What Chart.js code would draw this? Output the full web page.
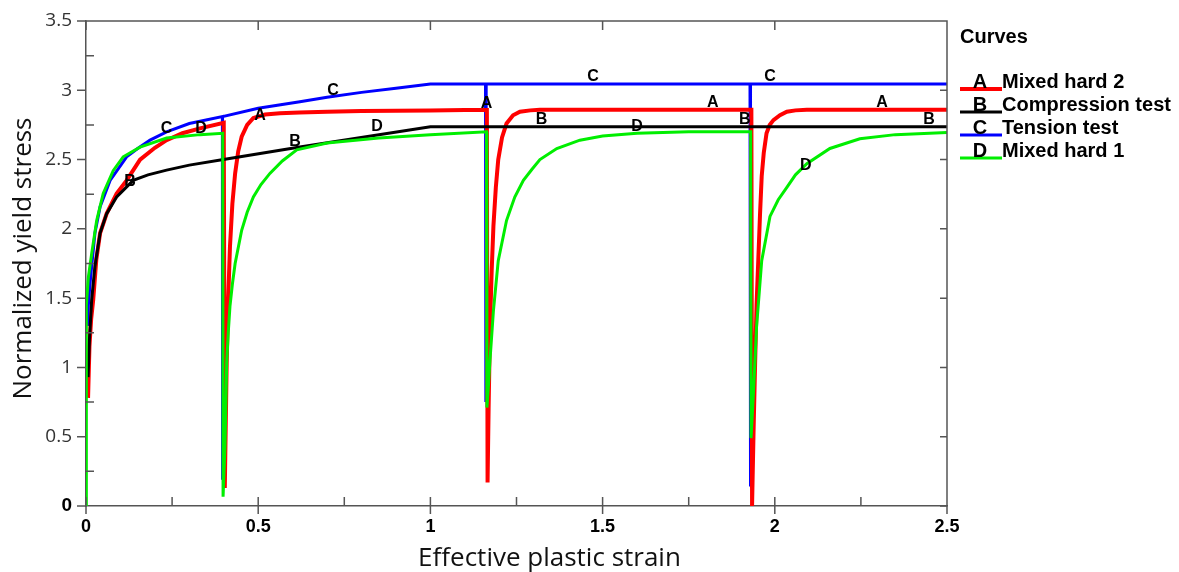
<!DOCTYPE html>
<html>
<head>
<meta charset="utf-8">
<script src="https://cdn.jsdelivr.net/npm/chart.js@4.4.1/dist/chart.umd.min.js"></script>
<style>
  html, body { margin: 0; padding: 0; background: #fff; }
</style>
</head>
<body>
<canvas id="yieldChart" width="1179" height="572"></canvas>
<script>
// A - Mixed hard 2 (red)
const mixed2Strain = [0.006, 0.010, 0.015, 0.021, 0.030, 0.041, 0.060, 0.089, 0.118, 0.157, 0.200, 0.234, 0.280, 0.331, 0.400,
  0.403, 0.4085, 0.413, 0.418, 0.425, 0.433, 0.442, 0.452, 0.468, 0.486, 0.520, 0.563, 0.620, 0.700, 0.800, 0.900, 1.000, 1.100, 1.164,
  1.166, 1.169, 1.173, 1.178, 1.183, 1.190, 1.197, 1.208, 1.221, 1.240, 1.260, 1.290, 1.318, 1.500, 1.700, 1.932,
  1.934, 1.938, 1.943, 1.947, 1.952, 1.957, 1.962, 1.968, 1.976, 1.985, 1.996, 2.015, 2.035, 2.060, 2.093, 2.300, 2.500]
const mixed2Stress = [0.78, 1.15, 1.35, 1.49, 1.78, 1.97, 2.11, 2.255, 2.35, 2.50, 2.585, 2.64, 2.69, 2.725, 2.765,
  0.13, 1.03, 1.50, 1.87, 2.18, 2.40, 2.56, 2.665, 2.75, 2.80, 2.825, 2.835, 2.84, 2.845, 2.85, 2.853, 2.855, 2.857, 2.858,
  0.17, 0.70, 1.29, 1.70, 2.02, 2.30, 2.50, 2.66, 2.76, 2.82, 2.845, 2.855, 2.86, 2.86, 2.86, 2.86,
  0.00, 0.50, 1.05, 1.45, 1.77, 2.10, 2.38, 2.55, 2.69, 2.75, 2.785, 2.82, 2.845, 2.855, 2.86, 2.86, 2.86]

// B - Compression test (black)
const compStrain = [0.006, 0.010, 0.0165, 0.026, 0.041, 0.060, 0.089, 0.137, 0.180, 0.234, 0.300, 0.399, 0.621, 1.000, 2.500]
const compStress = [0.93, 1.20, 1.49, 1.73, 1.97, 2.11, 2.23, 2.35, 2.39, 2.424, 2.46, 2.50, 2.59, 2.737, 2.737]

// C - Tension test (blue)
const tensStrain = [0.005, 0.0068, 0.0115, 0.0165, 0.026, 0.041, 0.070, 0.118, 0.150, 0.186, 0.234, 0.300, 0.396,
  0.396, 0.397, 0.500, 0.621, 0.700, 0.800, 0.900, 1.000, 1.160, 1.161, 1.162, 1.928, 1.929, 1.930, 2.500]
const tensStress = [1.30, 1.45, 1.60, 1.73, 1.97, 2.16, 2.35, 2.52, 2.58, 2.64, 2.70, 2.76, 2.81,
  0.19, 2.81, 2.87, 2.917, 2.95, 2.985, 3.015, 3.045, 3.045, 0.75, 3.045, 3.045, 0.14, 3.045, 3.045]

// D - Mixed hard 1 (green)
const mixed1Strain = [0.000, 0.001, 0.0068, 0.0165, 0.031, 0.050, 0.079, 0.108, 0.157, 0.234, 0.331, 0.397,
  0.398, 0.4036, 0.4085, 0.413, 0.418, 0.425, 0.433, 0.452, 0.468, 0.486, 0.508, 0.534, 0.570, 0.612, 0.700, 0.850, 1.000, 1.163,
  1.164, 1.168, 1.173, 1.183, 1.197, 1.221, 1.245, 1.270, 1.295, 1.318, 1.367, 1.434, 1.500, 1.600, 1.750, 1.930,
  1.931, 1.938, 1.947, 1.962, 1.986, 2.010, 2.035, 2.060, 2.093, 2.160, 2.247, 2.350, 2.500]
const mixed1Stress = [0.00, 1.45, 1.65, 1.82, 2.06, 2.255, 2.42, 2.52, 2.59, 2.655, 2.68, 2.69,
  0.067, 0.43, 1.03, 1.25, 1.44, 1.60, 1.75, 1.99, 2.12, 2.23, 2.32, 2.40, 2.49, 2.57, 2.62, 2.655, 2.68, 2.70,
  0.71, 0.85, 1.05, 1.41, 1.77, 2.06, 2.23, 2.35, 2.43, 2.50, 2.58, 2.64, 2.67, 2.69, 2.70, 2.70,
  0.49, 0.815, 1.29, 1.77, 2.09, 2.21, 2.30, 2.39, 2.47, 2.58, 2.65, 2.68, 2.695]

// letters written along the curves
const labelStrain = [0.234, 0.334, 0.128, 0.505, 0.607, 0.717, 0.845, 1.163, 1.323, 1.472, 1.600, 1.820, 1.913, 1.986, 2.090, 2.311, 2.448]
const labelStress = [2.72, 2.725, 2.34, 2.814, 2.63, 3.00, 2.735, 2.905, 2.785, 3.10, 2.735, 2.91, 2.785, 3.10, 2.455, 2.91, 2.785]
const labelLetter = ['C', 'D', 'B', 'A', 'B', 'C', 'D', 'A', 'B', 'C', 'D', 'A', 'B', 'C', 'D', 'A', 'B']

const toPoints = (xs, ys) => xs.map((x, i) => ({ x: x, y: ys[i] }))

const ARIAL = 'Liberation Sans, Arial, sans-serif'
const OPEN = 'Open Sans, sans-serif'
const AXIS = '#555'

// frame, inward/outward ticks, axis titles, curve letters and the legend
const decorations = {
  id: 'decorations',
  afterDraw(chart) {
    const { ctx, chartArea: a, scales: { x, y } } = chart
    ctx.save()

    ctx.strokeStyle = AXIS
    ctx.lineWidth = 1.5
    ctx.beginPath()
    ctx.moveTo(a.left, a.top)
    ctx.lineTo(a.right, a.top)
    ctx.lineTo(a.right, a.bottom)
    const xt = x.ticks.map(t => t.value)
    xt.forEach((v, i) => {
      const px = x.getPixelForValue(v)
      ctx.moveTo(px, a.bottom - 9); ctx.lineTo(px, a.bottom + 8)
      ctx.moveTo(px, a.top); ctx.lineTo(px, a.top + 9)
      if (i < xt.length - 1) {
        const mx = x.getPixelForValue((v + xt[i + 1]) / 2)
        ctx.moveTo(mx, a.bottom - 9); ctx.lineTo(mx, a.bottom)
      }
    })
    const yt = y.ticks.map(t => t.value)
    yt.forEach((v, i) => {
      const py = y.getPixelForValue(v)
      ctx.moveTo(a.left - 9, py); ctx.lineTo(a.left, py)
      ctx.moveTo(a.right - 7, py); ctx.lineTo(a.right, py)
      if (i < yt.length - 1) {
        const my = y.getPixelForValue((v + yt[i + 1]) / 2)
        ctx.moveTo(a.left, my); ctx.lineTo(a.left + 8, my)
      }
    })
    ctx.stroke()

    // axis titles
    ctx.fillStyle = '#111'
    ctx.font = '26px ' + OPEN
    ctx.textAlign = 'center'
    ctx.textBaseline = 'alphabetic'
    ctx.fillText('Effective plastic strain', (a.left + a.right) / 2 + 33, a.bottom + 60)
    ctx.save()
    ctx.translate(31, (a.top + a.bottom) / 2 - 5)
    ctx.rotate(-Math.PI / 2)
    ctx.fillText('Normalized yield stress', 0, 0)
    ctx.restore()

    // curve letters
    ctx.fillStyle = '#000'
    ctx.font = 'bold 16px ' + ARIAL
    ctx.textBaseline = 'middle'
    labelLetter.forEach((t, i) => {
      ctx.fillText(t, x.getPixelForValue(labelStrain[i]), y.getPixelForValue(labelStress[i]))
    })

    // legend
    const lx = a.right + 13
    ctx.textAlign = 'left'
    ctx.textBaseline = 'alphabetic'
    ctx.font = 'bold 20px ' + ARIAL
    ctx.fillText('Curves', lx, a.top + 22)
    chart.data.datasets.forEach((ds, i) => {
      const base = a.top + 67 + i * 23
      ctx.strokeStyle = ds.borderColor
      ctx.lineWidth = ds.borderWidth
      ctx.beginPath()
      ctx.moveTo(lx, base + 1)
      ctx.lineTo(lx + 42, base + 1)
      ctx.stroke()
      ctx.fillStyle = '#000'
      ctx.textAlign = 'center'
      ctx.fillText(ds.letter, lx + 20, base)
      ctx.textAlign = 'left'
      ctx.fillText(ds.label, lx + 42, base)
    })
    ctx.restore()
  }
}

new Chart(document.getElementById('yieldChart'), {
  type: 'scatter',
  data: {
    datasets: [
      { label: 'Mixed hard 2', letter: 'A', data: toPoints(mixed2Strain, mixed2Stress), borderColor: '#ff0000', borderWidth: 4, order: 2 },
      { label: 'Compression test', letter: 'B', data: toPoints(compStrain, compStress), borderColor: '#000000', borderWidth: 3, order: 1 },
      { label: 'Tension test', letter: 'C', data: toPoints(tensStrain, tensStress), borderColor: '#0000ff', borderWidth: 3, order: 3 },
      { label: 'Mixed hard 1', letter: 'D', data: toPoints(mixed1Strain, mixed1Stress), borderColor: '#00ee00', borderWidth: 3, order: 0 }
    ].map(ds => Object.assign(ds, { showLine: true, pointRadius: 0, tension: 0, fill: false }))
  },
  options: {
    responsive: false,
    animation: false,
    layout: { padding: { top: 21, right: 232, left: 0, bottom: 0 } },
    plugins: {
      legend: { display: false },
      tooltip: { enabled: false }
    },
    scales: {
      x: {
        type: 'linear',
        min: 0,
        max: 2.5,
        ticks: {
          stepSize: 0.5,
          padding: 10,
          color: '#000',
          font: { family: ARIAL, size: 18, weight: 'bold' },
          callback: v => String(v)
        },
        grid: { display: false, drawTicks: false },
        border: { color: AXIS, width: 1.5 },
        afterFit: s => { s.height = 66; s.paddingLeft = 0; s.paddingRight = 0 }
      },
      y: {
        type: 'linear',
        min: 0,
        max: 3.5,
        ticks: {
          stepSize: 0.5,
          padding: 14,
          color: c => (c.tick && c.tick.value === 0 ? '#000' : '#333'),
          font: c => (c.tick && c.tick.value === 0
            ? { family: ARIAL, size: 19, weight: 'bold' }
            : { family: OPEN, size: 19 }),
          callback: v => String(v)
        },
        grid: { display: false, drawTicks: false },
        border: { color: AXIS, width: 1.5 },
        afterFit: s => { s.width = 86; s.paddingTop = 0; s.paddingBottom = 0 }
      }
    }
  },
  plugins: [decorations]
})
</script>
</body>
</html>
